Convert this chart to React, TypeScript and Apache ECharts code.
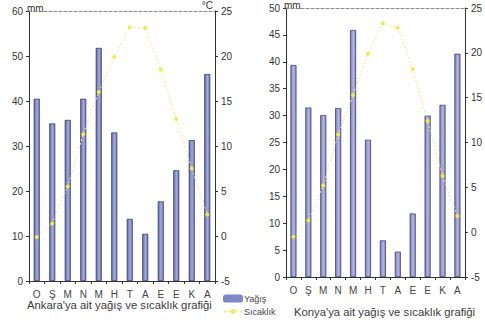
import React, { useEffect, useRef } from "react";
import * as echarts from "echarts";

const months = ["O", "Ş", "M", "N", "M", "H", "T", "A", "E", "E", "K", "A"];
const ankaraRain = [40.5, 35, 35.8, 40.5, 51.8, 33, 13.8, 10.5, 17.7, 24.6, 31.3, 46];
const ankaraTemp = [-0.1, 1.4, 5.5, 11.3, 16, 19.9, 23.2, 23.1, 18.5, 13, 7.5, 2.4];
const konyaRain = [39.4, 31.5, 30.1, 31.4, 45.9, 25.5, 6.8, 4.7, 11.8, 30, 32, 41.5];
const konyaTemp = [-0.5, 1.3, 5.2, 10.9, 15.3, 19.9, 23.3, 22.8, 18.2, 12.4, 6.3, 1.8];
const ankaraTitle = "Ankara'ya ait yağış ve sıcaklık grafiği";
const konyaTitle = "Konya'ya ait yağış ve sıcaklık grafiği";

const FONT = "Liberation Sans";

export default function App() {
  const ref = useRef<HTMLDivElement>(null);
  useEffect(() => {
    if (!ref.current) return;
    const chart = echarts.init(ref.current, undefined, { renderer: "svg" });
    const barGrad = (a: string, b: string, c: string) =>
      new echarts.graphic.LinearGradient(0, 0, 1, 0, [
        { offset: 0, color: a },
        { offset: 0.55, color: b },
        { offset: 1, color: c },
      ]);
    const axisLbl = { color: "#333", fontSize: 10, fontFamily: FONT, margin: 6 };
    const axisLine = { show: true, onZero: false, lineStyle: { color: "#333", width: 1 } };
    const tick = { show: true, length: 3, lineStyle: { color: "#333" } };
    const xBottom = (gi: number) => ({
      type: "category",
      gridIndex: gi,
      data: months,
      position: "bottom",
      axisLine,
      axisTick: { show: true, length: 3, lineStyle: { color: "#333" } },
      axisLabel: { ...axisLbl, fontSize: 10, margin: 8, color: "#444" },
    });
    const xTop = (gi: number) => ({
      type: "category",
      gridIndex: gi,
      data: months,
      position: "top",
      axisLine: { show: true, onZero: false, lineStyle: { color: "#888", width: 1, type: [3, 2] } },
      axisTick: { show: false },
      axisLabel: { show: false },
    });
    const tempAxis = (gi: number) => ({
      type: "value",
      gridIndex: gi,
      position: "right",
      min: -5,
      max: 25,
      interval: 5,
      axisLine,
      axisTick: tick,
      splitLine: { show: false },
      axisLabel: axisLbl,
      name: gi === 0 ? "°C" : "",
      nameLocation: "end",
      nameGap: 1,
      nameTextStyle: { color: "#333", fontSize: 10, fontFamily: FONT, align: "right", padding: [0, 2, 0, 0] },
    });
    const rainAxis = (gi: number, max: number, interval: number) => ({
      type: "value",
      gridIndex: gi,
      position: "left",
      min: 0,
      max,
      interval,
      axisLine,
      axisTick: tick,
      splitLine: { show: false },
      axisLabel: axisLbl,
      name: "mm",
      nameLocation: "end",
      nameGap: 0,
      nameTextStyle: { color: "#333", fontSize: 10, fontFamily: FONT, align: "left", padding: [0, 0, -2, -2] },
    });
    const barSeries = (gi: number, data: number[], colors: string[]) => ({
      name: "Yağış",
      type: "bar",
      xAxisIndex: gi * 2,
      yAxisIndex: gi * 2,
      data,
      barWidth: 6,
      itemStyle: {
        color: barGrad(colors[0], colors[1], colors[2]),
        borderColor: "#2e3160",
        borderWidth: 0.7,
      },
    });
    const lineSeries = (gi: number, data: number[]) => ({
      name: "Sıcaklık",
      type: "line",
      xAxisIndex: gi * 2,
      yAxisIndex: gi * 2 + 1,
      data,
      symbol: "circle",
      symbolSize: 4,
      lineStyle: { color: "#f2ea80", width: 1, type: [2, 2] },
      itemStyle: { color: "#f3e84e" },
      z: 5,
    });
    chart.setOption({
      animation: false,
      backgroundColor: "#ffffff",
      textStyle: { fontFamily: FONT },
      grid: [
        { left: 29, top: 8, width: 186, height: 273 },
        { left: 286, top: 5, width: 186, height: 272 },
      ],
      xAxis: [xBottom(0), xTop(0), xBottom(1), xTop(1)],
      yAxis: [rainAxis(0, 60, 10), tempAxis(0), rainAxis(1, 50, 5), tempAxis(1)],
      title: [
        {
          text: ankaraTitle,
          left: 27,
          top: 299,
          padding: 0,
          textStyle: { fontSize: 11.3, fontWeight: "normal", color: "#3a3a3a", fontFamily: FONT },
        },
        {
          text: konyaTitle,
          left: 294,
          top: 306,
          padding: 0,
          textStyle: { fontSize: 11.3, fontWeight: "normal", color: "#3a3a3a", fontFamily: FONT },
        },
      ],
      legend: {
        orient: "vertical",
        left: 223,
        top: 294,
        padding: 0,
        itemGap: 4,
        itemWidth: 18,
        itemHeight: 6,
        textStyle: { fontSize: 9, color: "#444", fontFamily: FONT, padding: [0, 0, 0, -3] },
        data: [
          { name: "Yağış", itemStyle: { color: "#7f88c4", borderColor: "#7f88c4" } },
          { name: "Sıcaklık" },
        ],
      },
      series: [
        barSeries(0, ankaraRain, ["#5f69ad", "#a4abdc", "#6d76b8"]),
        lineSeries(0, ankaraTemp),
        barSeries(1, konyaRain, ["#7a7cbc", "#b6b6e2", "#8587c6"]),
        lineSeries(1, konyaTemp),
      ],
    });
    return () => chart.dispose();
  }, []);
  return (
    <div
      ref={ref}
      style={{ position: "fixed", left: 0, top: 0, width: 485, height: 331, background: "#fff" }}
    />
  );
}
